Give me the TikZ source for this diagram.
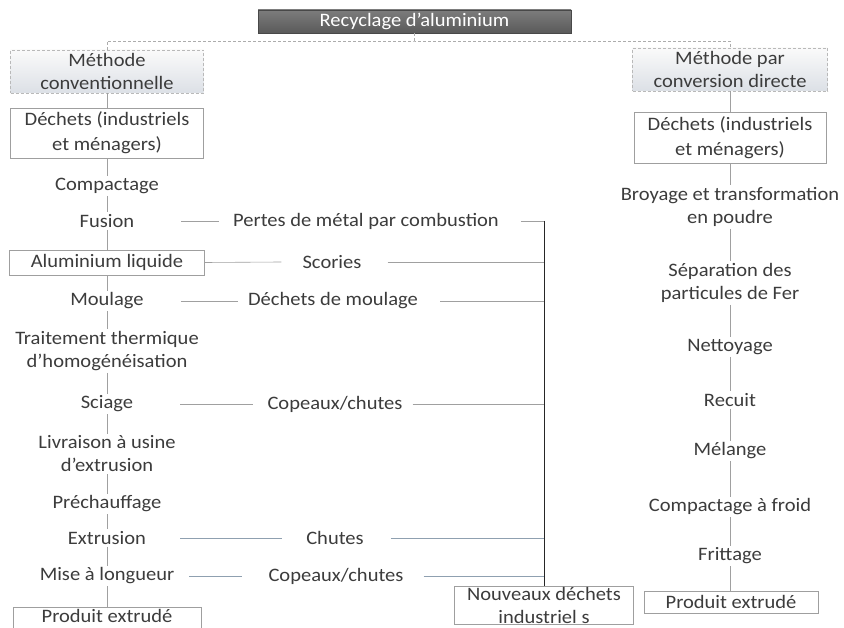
\documentclass[tikz,border=0pt]{standalone}
\usepackage{fontspec}
\setmainfont{Carlito}[FakeStretch=1.08]
\definecolor{txt}{HTML}{3C3C3C}
\definecolor{ln}{HTML}{A0A0A0}
\definecolor{lnb}{HTML}{8FA0B0}
\definecolor{ttop}{HTML}{7C7C7C}
\definecolor{tbot}{HTML}{5A5A5A}
\definecolor{htop}{HTML}{FAFAFA}
\definecolor{hbot}{HTML}{DCE0E6}
\begin{document}
\begin{tikzpicture}[x=1pt,y=-1pt,
  every node/.style={font=\fontsize{19}{23}\selectfont, text=txt},
  lbl/.style={inner sep=2pt, align=center},
  box/.style={draw=gray!75, line width=0.6pt, align=center, inner sep=0pt},
  boxline/.style={draw=gray!75, line width=0.6pt},
  hdr/.style={box, draw=gray!55, densely dashed, top color=htop, bottom color=hbot},
  ttl/.style={draw=tbot!80!black, line width=0.6pt, top color=ttop, bottom color=tbot, text=white, inner sep=0pt},
  link/.style={draw=ln, line width=0.6pt},
  blink/.style={draw=lnb, line width=0.6pt},
  topl/.style={draw=gray!65, line width=0.6pt, densely dashed},
  busl/.style={draw=gray!30!black, line width=0.7pt}]
\useasboundingbox[fill=white] (0,0) rectangle (844,628);

% title
\node[ttl, minimum width=313pt, minimum height=23pt] (title) at (414.5,21.5) {Recyclage d’aluminium};
\coordinate (bus) at (414.5,41);

% left column
\node[hdr, minimum width=193pt, minimum height=43pt] (m1) at (107,71.5) {Méthode\\conventionnelle};
\node[box, minimum width=193pt, minimum height=50pt] (d1) at (107,133) {Déchets (industriels\\[2pt]et ménagers)};
\node[lbl] (comp) at (107,186) {Compactage};
\node[lbl] (fus) at (107,221) {Fusion};
\node[box, minimum width=195pt, minimum height=25pt] (alu) at (107,262.5) {Aluminium liquide};
\node[lbl] (moul) at (107,301) {Moulage};
\node[lbl] (trait) at (107,351) {Traitement thermique\\d’homogénéisation};
\node[lbl] (sci) at (107,404) {Sciage};
\node[lbl] (livr) at (107,454) {Livraison à usine\\d’extrusion};
\node[lbl] (prech) at (107,504) {Préchauffage};
\node[lbl] (extr) at (107,538) {Extrusion};
\node[lbl] (mise) at (107,576) {Mise à longueur};
\node[inner sep=0pt] (prod1) at (107,616) {Produit extrudé};
\coordinate (p1top) at ([yshift=9pt]prod1.center);
\draw[boxline] ([xshift=-94pt,yshift=-19pt]prod1.center) |- ([xshift=94pt,yshift=9pt]prod1.center) -- ++(0,28);

% right column
\node[hdr, minimum width=195pt, minimum height=43pt] (m2) at (730,69.5) {Méthode par\\conversion directe};
\node[box, minimum width=192pt, minimum height=51pt] (d2) at (730,137.5) {Déchets (industriels\\[2pt]et ménagers)};
\node[lbl] (broy) at (730,207) {Broyage et transformation\\en poudre};
\node[lbl] (sep) at (730,283) {Séparation des\\particules de Fer};
\node[lbl] (net) at (730,347) {Nettoyage};
\node[lbl] (rec) at (730,400) {Recuit};
\node[lbl] (mel) at (730,451) {Mélange};
\node[lbl] (cf) at (730,507) {Compactage à froid};
\node[lbl] (fri) at (730,556) {Frittage};
\node[box, minimum width=174pt, minimum height=22pt] (prod2) at (731,602) {Produit extrudé};

% losses column
\node[lbl] (pertes) at (366,221) {Pertes de métal par combustion};
\node[lbl] (scor) at (332,262) {Scories};
\node[lbl] (dmoul) at (333,301) {Déchets de moulage};
\node[lbl] (cop1) at (335,404) {Copeaux/chutes};
\node[lbl] (chut) at (335,538) {Chutes};
\node[lbl] (cop2) at (336,576) {Copeaux/chutes};
\node[box, minimum width=179pt, minimum height=38pt] (nouv) at (544,605) {Nouveaux déchets\\industriel s};

% top connectors
\draw[topl] (title.south) -- (bus);
\draw[topl] (m1.north) |- (bus) -| (m2.north);

% vertical chains
\foreach \a/\b in {m1/d1,d1/comp,comp/fus,fus/alu,alu/moul,moul/trait,trait/sci,sci/livr,livr/prech,prech/extr,extr/mise,
                   m2/d2,d2/broy,broy/sep,sep/net,net/rec,rec/mel,mel/cf,cf/fri}
  \draw[link] (\a.south) -- (\b.north);
\draw[link] (mise.south) -- (mise.south |- p1top);
\draw[link] (fri.south) -- (fri.south |- prod2.north);

% loss connectors
\draw[link] ([xshift=45pt]fus.east) -- ([xshift=-12pt]pertes.west);
\draw[link] ([xshift=20pt]pertes.east) -- (pertes.east -| nouv.north);
\draw[link] (alu.east) -- ([xshift=-19pt]scor.west);
\draw[link] ([xshift=24pt]scor.east) -- (scor.east -| nouv.north);
\draw[link] ([xshift=35pt]moul.east) -- ([xshift=-8pt]dmoul.west);
\draw[link] ([xshift=20pt]dmoul.east) -- (dmoul.east -| nouv.north);
\draw[link] ([xshift=45pt]sci.east) -- ([xshift=-12pt]cop1.west);
\draw[link] ([xshift=8pt]cop1.east) -- (cop1.east -| nouv.north);
\draw[blink] ([xshift=32pt]extr.east) -- ([xshift=-22pt]chut.west);
\draw[blink] ([xshift=25pt]chut.east) -- (chut.east -| nouv.north);
\draw[blink] ([xshift=13pt]mise.east) -- ([xshift=-24pt]cop2.west);
\draw[blink] ([xshift=18pt]cop2.east) -- (cop2.east -| nouv.north);
\draw[busl] (pertes.east -| nouv.north) -- (nouv.north);
\end{tikzpicture}
\end{document}
